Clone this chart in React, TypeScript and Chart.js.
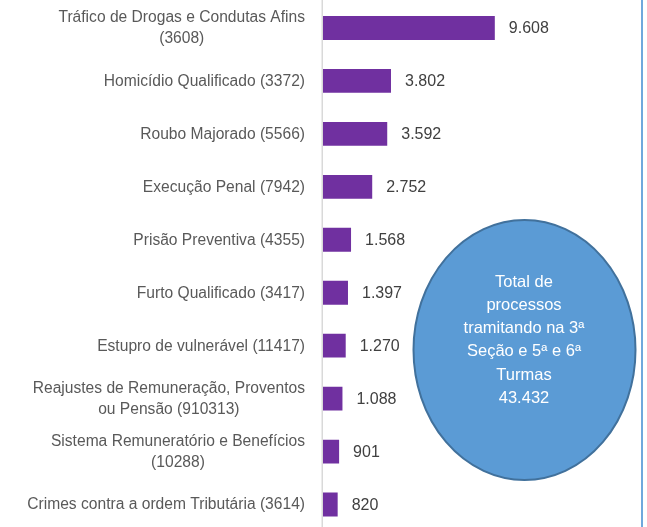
import React, { useEffect, useRef } from 'react';
import { Chart, registerables } from 'chart.js';

Chart.register(...registerables);

const categories: string[][] = [
  ['Tráfico de Drogas e Condutas Afins', '(3608)'],
  ['Homicídio Qualificado (3372)'],
  ['Roubo Majorado (5566)'],
  ['Execução Penal (7942)'],
  ['Prisão Preventiva (4355)'],
  ['Furto Qualificado (3417)'],
  ['Estupro de vulnerável (11417)'],
  ['Reajustes de Remuneração, Proventos', 'ou Pensão (910313)'],
  ['Sistema Remuneratório e Benefícios', '(10288)'],
  ['Crimes contra a ordem Tributária (3614)'],
];

const values: number[] = [9608, 3802, 3592, 2752, 1568, 1397, 1270, 1088, 901, 820];

const calloutLines: string[] = [
  'Total de',
  'processos',
  'tramitando na 3ª',
  'Seção e 5ª e 6ª',
  'Turmas',
  '43.432',
];

const FONT = '"Liberation Sans", Arial, sans-serif';
const SQUEEZE = 0.975;

function fmt(v: number): string {
  return String(v).replace(/\B(?=(\d{3})+(?!\d))/g, '.');
}

const overlayPlugin = {
  id: 'overlay',
  afterDraw(chart: any) {
    const ctx: CanvasRenderingContext2D = chart.ctx;
    const area = chart.chartArea;
    const yScale = chart.scales.y;
    const meta = chart.getDatasetMeta(0);
    const H = chart.height;
    ctx.save();

    // vertical axis line
    ctx.fillStyle = '#D9D9D9';
    ctx.fillRect(area.left - 1.5, 0, 1.5, H);

    // category labels (multi-line centered block, right-aligned)
    ctx.font = `16px ${FONT}`;
    ctx.fillStyle = '#595959';
    ctx.textBaseline = 'middle';
    ctx.textAlign = 'center';
    const rightEdge = area.left - 18;
    const lh = 21;
    categories.forEach((lines, i) => {
      const yc = yScale.getPixelForValue(i);
      const w = Math.max(...lines.map((l) => ctx.measureText(l).width)) * SQUEEZE;
      const cx = rightEdge - w / 2;
      lines.forEach((line, j) => {
        ctx.save();
        ctx.translate(cx, yc + (j - (lines.length - 1) / 2) * lh + 0.5);
        ctx.scale(SQUEEZE, 1);
        ctx.fillText(line, 0, 0);
        ctx.restore();
      });
    });

    // value labels
    ctx.fillStyle = '#404040';
    ctx.textAlign = 'left';
    meta.data.forEach((bar: any, i: number) => {
      ctx.fillText(fmt(values[i]), bar.x + 14, bar.y + 1);
    });

    // callout ellipse
    ctx.beginPath();
    ctx.ellipse(524.5, 350, 111, 130, 0, 0, Math.PI * 2);
    ctx.fillStyle = '#5B9BD5';
    ctx.fill();
    ctx.lineWidth = 2;
    ctx.strokeStyle = '#41719C';
    ctx.stroke();

    ctx.font = `16.5px ${FONT}`;
    ctx.fillStyle = '#FFFFFF';
    ctx.textAlign = 'center';
    ctx.textBaseline = 'alphabetic';
    calloutLines.forEach((line, j) => {
      ctx.fillText(line, 524, 286.5 + j * 23.3);
    });

    // right border line
    ctx.fillStyle = '#6FA8DC';
    ctx.fillRect(641, 0, 2, H);

    ctx.restore();
  },
};

export default function App() {
  const canvasRef = useRef<HTMLCanvasElement | null>(null);

  useEffect(() => {
    if (!canvasRef.current) return;
    const chart = new Chart(canvasRef.current, {
      type: 'bar',
      data: {
        labels: categories,
        datasets: [
          {
            data: values,
            backgroundColor: '#7030A0',
            borderWidth: 0,
            barPercentage: 0.45,
            categoryPercentage: 1,
          },
        ],
      },
      options: {
        indexAxis: 'y',
        responsive: false,
        animation: false,
        devicePixelRatio: 1,
        layout: { padding: { left: 323, right: 20, top: 1.5, bottom: 0 } },
        plugins: {
          legend: { display: false },
          tooltip: { enabled: false },
          title: { display: false },
        },
        scales: {
          x: { display: false, min: 0, max: 17000 },
          y: { display: false },
        },
      },
      plugins: [overlayPlugin],
    });
    return () => chart.destroy();
  }, []);

  return (
    <div
      style={{
        position: 'fixed',
        top: 0,
        left: 0,
        width: 647,
        height: 527,
        overflow: 'hidden',
        background: '#FFFFFF',
      }}
    >
      <canvas ref={canvasRef} width={647} height={531} style={{ display: 'block' }} />
    </div>
  );
}
